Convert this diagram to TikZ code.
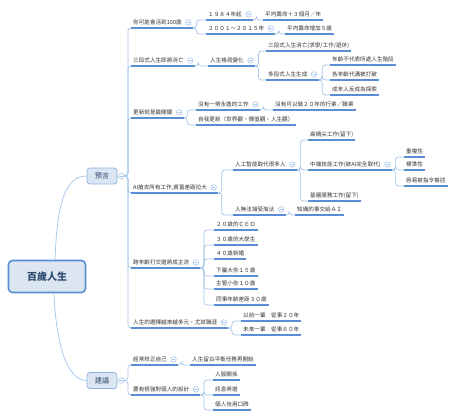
\documentclass[tikz,border=0pt]{standalone}
\usepackage{fontspec}
\newfontfamily\cjk{Noto Sans CJK TC}
\usetikzlibrary{calc}
\pgfdeclarelayer{background}
\pgfsetlayers{background,main}
\definecolor{lnc}{HTML}{A4C4EC}
\definecolor{ulc}{HTML}{5B8DD3}
\definecolor{bxc}{HTML}{DCE6F2}
\definecolor{bxd}{HTML}{5A8FD6}
\definecolor{bxl}{HTML}{8DB3E2}
\definecolor{txc}{HTML}{333333}
\definecolor{rtc}{HTML}{2E4A70}
\tikzset{
 ulline/.style={draw=ulc, line width=1.1pt},
 topic/.style={anchor=south west, inner xsep=2pt, inner ysep=2.6pt, text height=4.6pt, text depth=0.9pt,
   font=\cjk\fontsize{5.6}{6}\selectfont, text=txc,
   append after command={\pgfextra{\let\mmtn\tikzlastnode} (\mmtn.south west) edge[ulline] (\mmtn.south east)}},
 conn/.style={draw=lnc, line width=0.7pt, rounded corners=3pt},
 collapse/.style={circle, draw=lnc, fill=white, minimum size=5.5pt, inner sep=0pt, line width=0.6pt,
   path picture={\draw[draw=lnc, line width=0.5pt] ([xshift=1.3pt]path picture bounding box.west) -- ([xshift=-1.3pt]path picture bounding box.east);}},
 rootbox/.style={rectangle, rounded corners=4pt, fill=bxc, draw=bxd, line width=1.6pt, minimum width=77pt, minimum height=32pt,
   font=\cjk\bfseries\fontsize{10}{12}\selectfont, text=rtc},
 lonebox/.style={rectangle, rounded corners=3pt, fill=bxc, draw=bxl, line width=0.7pt, minimum width=30pt, minimum height=16pt,
   font=\cjk\fontsize{7.2}{8}\selectfont, text=rtc}
}
\newcommand\mmcollapse[1]{\node[collapse] (k#1) at ($(#1.east)+(4.5,0)$) {};
  \coordinate (o#1) at ($(k#1.east |- #1.south)+(1.5,0)$);
  \draw[ulline] (#1.south east) -- (o#1);}
\newcommand\mmlink[2]{\draw[conn] (o#1) -- ++(3.5,0) |- (#2.south west);}
\begin{document}
\begin{tikzpicture}[x=1pt,y=-1pt]
\useasboundingbox (0,0) rectangle (462,419);
% main boxes
\node[rootbox] (root) at (47,276.5) {百歲人生};
\node[lonebox] (Y) at (102,176) {預言};
\node[lonebox] (J) at (102,380.5) {建議};
\node[collapse] (kY) at ($(Y.east)+(4,0)$) {};
\node[collapse] (kJ) at ($(J.east)+(4,0)$) {};
\coordinate (oY) at (kY.east);
\coordinate (oJ) at (kJ.east);
\coordinate (rt) at ($(root.north)+(8,0)$);
\coordinate (rb) at ($(root.south)+(7,0)$);
% level 2 under 預言
\node[topic] (A) at (131,28) {你可能會活到100歲};
\node[topic] (B) at (131,66) {三段式人生即將消亡};
\node[topic] (C) at (131,118) {更新就是最關鍵};
\node[topic] (D) at (131,193) {AI搶去所有工作,貧富差距拉大};
\node[topic] (E) at (131,268) {跨年齡打交道將成主流};
\node[topic] (F) at (131,328) {人生的選擇越來越多元，尤其職涯};
\mmcollapse{A}\mmcollapse{B}\mmcollapse{C}\mmcollapse{D}\mmcollapse{E}\mmcollapse{F}
% A
\node[topic] (A1) at (206,20) {１９８４年起};
\node[topic] (A2) at (206,34) {２００１～２０１５年};
\mmcollapse{A1}\mmcollapse{A2}
\node[topic] (A1a) at (263,20) {平均壽命＋３個月／年};
\node[topic] (A2a) at (285,34) {平均壽命增加５歲};
% B
\node[topic] (B1) at (208,66) {人生格局變化};
\mmcollapse{B1}
\node[topic] (B1a) at (266,51) {三段式人生消亡(求學/工作/退休)};
\node[topic] (B1b) at (266,80) {多段式人生生成};
\mmcollapse{B1b}
\node[topic] (B1b1) at (330,65) {年齡不代表所處人生階段};
\node[topic] (B1b2) at (330,80) {各年齡代溝被打破};
\node[topic] (B1b3) at (330,95) {成年人反成為探索};
% C
\node[topic] (C1) at (196,110) {沒有一勞永逸的工作};
\mmcollapse{C1}
\node[topic] (C1a) at (273,110) {沒有可以做２０年的行業／職業};
\node[topic] (C2) at (196,125) {自我更新（世界觀、價值觀、人生觀）};
% D
\node[topic] (D1) at (233,170) {人工智能取代很多人};
\node[topic] (D2) at (233,215) {人無法接受淘汰};
\mmcollapse{D1}\mmcollapse{D2}
\node[topic] (D1a) at (308,140) {高精尖工作(留下)};
\node[topic] (D1b) at (308,170) {中端技能工作(被AI完全取代)};
\node[topic] (D1c) at (308,201) {基層服務工作(留下)};
\mmcollapse{D1b}
\node[topic] (D1b1) at (404,157) {重複性};
\node[topic] (D1b2) at (404,170) {標準性};
\node[topic] (D1b3) at (404,186) {容易被指令描述};
\node[topic] (D2a) at (295,215) {知識的事交給ＡＩ};
% E
\node[topic] (E1) at (214,230) {２０歲的ＣＥＯ};
\node[topic] (E2) at (214,245) {３０歲的大學生};
\node[topic] (E3) at (214,259) {４０歲新婚};
\node[topic] (E4) at (214,276) {下屬大你１５歲};
\node[topic] (E5) at (214,289) {主管小你１０歲};
\node[topic] (E6) at (214,305) {同事年齡差距３０歲};
% F
\node[topic] (F1) at (241,321) {以前一輩　從事２０年};
\node[topic] (F2) at (241,335) {未來一輩　從事６０年};
% 建議
\node[topic] (G1) at (131,365) {經常校正自己};
\node[topic] (G2) at (131,395) {要有很強對個人的設計};
\mmcollapse{G1}\mmcollapse{G2}
\node[topic] (G1a) at (190,365) {人生留白平衡任務再開始};
\node[topic] (G2a) at (213,380) {人脈關係};
\node[topic] (G2b) at (213,395) {訊息渠道};
\node[topic] (G2c) at (213,410) {個人信用口碑};
% connectors
\begin{pgfonlayer}{background}
\fill[white] (0,0) rectangle (462,419);
\draw[conn] (rt) .. controls ($(rt)+(2,-55)$) and ($(Y.west)+(-22,0)$) .. (Y.west);
\draw[conn] (rb) .. controls ($(rb)+(2,50)$) and ($(J.west)+(-20,0)$) .. (J.west);
\draw[conn] (Y.east) -- (kY.west);
\draw[conn] (J.east) -- (kJ.west);
\mmlink{Y}{A}\mmlink{Y}{B}\mmlink{Y}{C}\mmlink{Y}{D}\mmlink{Y}{E}\mmlink{Y}{F}
\mmlink{A}{A1}\mmlink{A}{A2}\mmlink{A1}{A1a}\mmlink{A2}{A2a}
\mmlink{B}{B1}\mmlink{B1}{B1a}\mmlink{B1}{B1b}
\mmlink{B1b}{B1b1}\mmlink{B1b}{B1b2}\mmlink{B1b}{B1b3}
\mmlink{C}{C1}\mmlink{C}{C2}\mmlink{C1}{C1a}
\mmlink{D}{D1}\mmlink{D}{D2}\mmlink{D1}{D1a}\mmlink{D1}{D1b}\mmlink{D1}{D1c}
\mmlink{D1b}{D1b1}\mmlink{D1b}{D1b2}\mmlink{D1b}{D1b3}\mmlink{D2}{D2a}
\mmlink{E}{E1}\mmlink{E}{E2}\mmlink{E}{E3}\mmlink{E}{E4}\mmlink{E}{E5}\mmlink{E}{E6}
\mmlink{F}{F1}\mmlink{F}{F2}
\mmlink{J}{G1}\mmlink{J}{G2}\mmlink{G1}{G1a}
\mmlink{G2}{G2a}\mmlink{G2}{G2b}\mmlink{G2}{G2c}
\end{pgfonlayer}
\end{tikzpicture}
\end{document}
